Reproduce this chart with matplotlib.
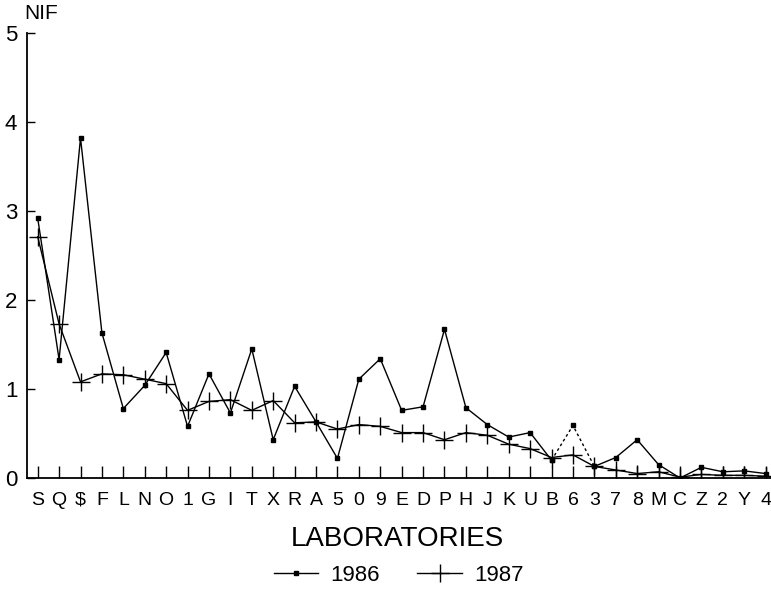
import matplotlib.pyplot as plt
import numpy as np

# laboratories in plotting order
labs = ['S', 'Q', '$', 'F', 'L', 'N', 'O', '1', 'G', 'I', 'T', 'X', 'R', 'A', '5',
        '0', '9', 'E', 'D', 'P', 'H', 'J', 'K', 'U', 'B', '6', '3', '7', '8', 'M',
        'C', 'Z', '2', 'Y', '4']

nif_1986 = [2.92, 1.33, 3.82, 1.63, 0.78, 1.04, 1.41, 0.58, 1.17, 0.73, 1.45, 0.43,
            1.03, 0.63, 0.22, 1.11, 1.34, 0.76, 0.80, 1.67, 0.79, 0.60, 0.46, 0.51,
            0.20, 0.59, 0.13, 0.23, 0.43, 0.15, 0.00, 0.12, 0.07, 0.08, 0.05]

nif_1987 = [2.71, 1.73, 1.08, 1.17, 1.16, 1.11, 1.06, 0.76, 0.86, 0.88, 0.76, 0.87,
            0.62, 0.63, 0.55, 0.60, 0.58, 0.51, 0.51, 0.43, 0.51, 0.48, 0.38, 0.33,
            0.23, 0.26, 0.13, 0.09, 0.05, 0.07, 0.01, 0.04, 0.03, 0.03, 0.02]

plt.rcParams['font.family'] = ['Liberation Sans', 'DejaVu Sans']

x = np.arange(len(labs))
y86 = np.array(nif_1986)
y87 = np.array(nif_1987)

fig = plt.figure(figsize=(7.71, 5.99), dpi=100)
ax = fig.add_axes([0.035, 0.202, 0.965, 0.743])

# 1986: solid except the dotted stretch B-6-3
b = labs.index('B')
ax.plot(x[:b + 1], y86[:b + 1], color='black', lw=1.0, marker='s', ms=3)
ax.plot(x[b:b + 3], y86[b:b + 3], color='black', lw=1.0, ls=(0, (2, 2)), marker='s', ms=3)
ax.plot(x[b + 2:], y86[b + 2:], color='black', lw=1.0, marker='s', ms=3)

# 1987
ax.plot(x, y87, color='black', lw=1.0, marker='+', ms=13, mew=1.0)

ax.set_xlim(-0.5, 34.25)
ax.set_ylim(0, 5)
ax.set_yticks([0, 1, 2, 3, 4, 5])
ax.set_xticks(x)
ax.set_xticklabels(labs)
ax.tick_params(axis='x', direction='in', length=9, width=1, labelsize=14, pad=10)
ax.tick_params(axis='y', direction='in', length=6, width=1, labelsize=16, pad=7)
for s in ['top', 'right']:
    ax.spines[s].set_visible(False)
ax.spines['left'].set_linewidth(1.3)
ax.spines['bottom'].set_linewidth(1.3)

fig.text(0.032, 0.977, 'NIF', fontsize=15, va='center', ha='left')
fig.text(0.515, 0.10, 'LABORATORIES', fontsize=20, ha='center', va='center')

h1, = ax.plot([], [], color='black', lw=1, marker='s', ms=3)
h2, = ax.plot([], [], color='black', lw=1, marker='+', ms=13)
fig.legend([h1, h2], ['1986', '1987'], loc='center', bbox_to_anchor=(0.517, 0.04),
           ncol=2, frameon=False, fontsize=16, handlelength=2.0, handletextpad=0.55,
           columnspacing=1.7)

plt.savefig('out.png', dpi=100)
